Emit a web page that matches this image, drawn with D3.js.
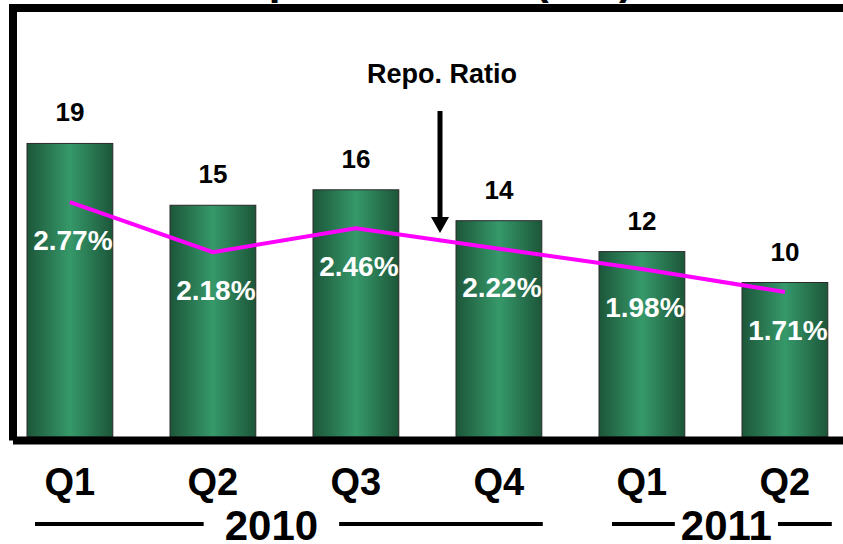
<!DOCTYPE html>
<html lang="en">

<head>
    <meta charset="UTF-8">
    <title>Repossessions (000)</title>
    <script src="https://d3js.org/d3.v7.min.js"></script>
</head>
<style>
body {
    margin: 0;
    background: #fff;
}

svg {
    display: block;
    font-family: "Liberation Sans", Arial, sans-serif;
    font-weight: bold;
}
</style>

<body>
    <svg width="843" height="544"></svg>
</body>
<script>
var quarters = ['Q1', 'Q2', 'Q3', 'Q4', 'Q1', 'Q2'];
var repossessions = [19, 15, 16, 14, 12, 10];
var repoRatio = [2.77, 2.18, 2.46, 2.22, 1.98, 1.71];
var yearLabels = ['2010', '2011'];
var yearFirstQuarter = [0, 4];
var yearLastQuarter = [3, 5];

var svg = d3.select('svg');
var width = +svg.attr('width');
var height = +svg.attr('height');
var baseY = 437;

// gradient for the cylinder look of the bars
var grad = svg.append('defs').append('linearGradient')
    .attr('id', 'barGrad')
    .attr('x1', '0%').attr('x2', '100%')
    .attr('y1', '0%').attr('y2', '0%');
grad.append('stop').attr('offset', '0%').attr('stop-color', '#1c5639');
grad.append('stop').attr('offset', '50%').attr('stop-color', '#36996a');
grad.append('stop').attr('offset', '100%').attr('stop-color', '#1c5639');

var x = d3.scaleBand()
    .domain(d3.range(quarters.length))
    .range([-1.6, 856.4])
    .paddingInner(0.4)
    .paddingOuter(0.2);
var bw = x.bandwidth();

var y = d3.scaleLinear().domain([0, 25]).range([baseY, baseY - 25 * 15.45]);
var y2 = d3.scaleLinear().domain([0, 5]).range([baseY, baseY - 5 * 84.8]);

// title, mostly cut off by the top of the picture
svg.append('text')
    .attr('x', 424)
    .attr('y', -6)
    .attr('text-anchor', 'middle')
    .attr('font-size', 42)
    .text('Repossessions (000)');

// bars
svg.append('g')
    .selectAll('rect')
    .data(repossessions)
    .enter()
    .append('rect')
    .attr('x', function(d, i) { return x(i); })
    .attr('y', function(d) { return y(d); })
    .attr('width', bw)
    .attr('height', function(d) { return baseY - y(d); })
    .attr('fill', 'url(#barGrad)')
    .attr('stroke', '#2a2a2a')
    .attr('stroke-width', 1);

// value labels above bars
svg.append('g')
    .selectAll('text')
    .data(repossessions)
    .enter()
    .append('text')
    .attr('x', function(d, i) { return x(i) + bw / 2; })
    .attr('y', function(d) { return y(d) - 22; })
    .attr('text-anchor', 'middle')
    .attr('font-size', 26)
    .attr('fill', '#000')
    .text(function(d) { return d; });

// repo ratio line
var line = d3.line()
    .x(function(d, i) { return x(i) + bw / 2; })
    .y(function(d) { return y2(d); });

svg.append('path')
    .datum(repoRatio)
    .attr('d', line)
    .attr('fill', 'none')
    .attr('stroke', '#ff00ff')
    .attr('stroke-width', 4);

svg.append('g')
    .selectAll('text')
    .data(repoRatio)
    .enter()
    .append('text')
    .attr('x', function(d, i) { return x(i) + bw / 2 + 3; })
    .attr('y', function(d) { return y2(d) + 48; })
    .attr('text-anchor', 'middle')
    .attr('font-size', 28)
    .attr('fill', '#fff')
    .text(function(d) { return d.toFixed(2) + '%'; });

// "Repo. Ratio" callout with arrow
svg.append('text')
    .attr('x', 442)
    .attr('y', 83)
    .attr('text-anchor', 'middle')
    .attr('font-size', 27)
    .text('Repo. Ratio');
svg.append('line')
    .attr('x1', 440).attr('x2', 440)
    .attr('y1', 111).attr('y2', 220)
    .attr('stroke', '#000')
    .attr('stroke-width', 5);
svg.append('path')
    .attr('d', 'M431,217 L449,217 L440,233 Z')
    .attr('fill', '#000');

// frame
svg.append('path')
    .attr('d', 'M13,' + (baseY + 3.5) + ' V8 H' + (width + 10) + ' M13,' + (baseY + 3.5) + ' H' + (width + 10))
    .attr('fill', 'none')
    .attr('stroke', '#000')
    .attr('stroke-width', 8);

// quarter labels
svg.append('g')
    .selectAll('text')
    .data(quarters)
    .enter()
    .append('text')
    .attr('x', function(d, i) { return x(i) + bw / 2; })
    .attr('y', 495)
    .attr('text-anchor', 'middle')
    .attr('font-size', 38)
    .text(function(d) { return d; });

// year labels with rules either side
var yearShift = [-13, 13];
var yearGap = [21, 6];
yearLabels.forEach(function(label, k) {
    var left = x(yearFirstQuarter[k]);
    var right = x(yearLastQuarter[k]) + bw;
    var t = svg.append('text')
        .attr('x', (left + right) / 2 + yearShift[k])
        .attr('y', 540)
        .attr('text-anchor', 'middle')
        .attr('font-size', 42)
        .text(label);
    var b = t.node().getBBox();
    svg.append('line')
        .attr('x1', left + (k === 0 ? 8 : 13)).attr('x2', b.x - yearGap[k])
        .attr('y1', 524).attr('y2', 524)
        .attr('stroke', '#000').attr('stroke-width', 4);
    svg.append('line')
        .attr('x1', b.x + b.width + yearGap[k]).attr('x2', right + (k === 0 ? 1 : 4))
        .attr('y1', 524).attr('y2', 524)
        .attr('stroke', '#000').attr('stroke-width', 4);
});
</script>

</html>
